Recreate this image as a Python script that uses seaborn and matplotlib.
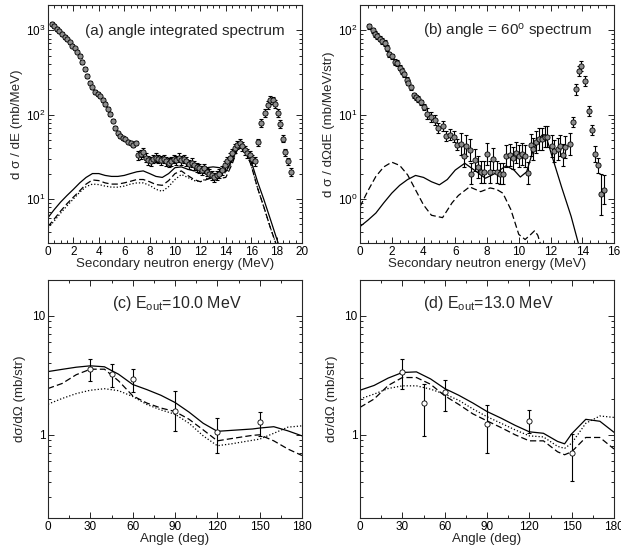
import numpy as np
import matplotlib
matplotlib.use("Agg")
import matplotlib.pyplot as plt
import matplotlib.ticker as mticker
import seaborn as sns

# ---- (a) angle integrated spectrum ----
a_e = [0.3, 0.5, 0.7, 0.9, 1.1, 1.3, 1.5, 1.7, 1.9, 2.1, 2.3, 2.5, 2.7, 2.9, 3.1, 3.3, 3.5,
       3.7, 3.9, 4.1, 4.3, 4.5, 4.7, 4.9, 5.1, 5.3, 5.5, 5.7, 5.9, 6.1, 6.3, 6.5, 6.7, 6.9,
       7.1, 7.3, 7.5, 7.7, 7.9, 8.1, 8.3, 8.5, 8.7, 8.9, 9.1, 9.3, 9.5, 9.7, 9.9, 10.1, 10.3,
       10.5, 10.7, 10.9, 11.1, 11.3, 11.5, 11.7, 11.9, 12.1, 12.3, 12.5, 12.7, 12.9, 13.1,
       13.3, 13.5, 13.7, 13.9, 14.1, 14.3, 14.5, 14.7, 14.9, 15.1, 15.3, 15.5, 15.7, 15.9,
       16.1, 16.3]
a_val = [1200, 1120, 1040, 970, 900, 840, 780, 720, 660, 610, 560, 500, 420, 350, 290, 240,
         210, 185, 175, 165, 150, 135, 118, 102, 85, 70, 60, 56, 53, 51, 48, 46, 44, 46,
         33, 34, 36, 31, 29, 28, 30, 31, 30, 29, 30, 28, 27, 28, 30, 29, 31, 29, 30, 28,
         26, 27, 25, 24, 23, 22, 23, 21, 20, 19, 18, 19, 20, 22, 25, 28, 31, 35, 40, 44,
         46, 42, 38, 35, 33, 30, 28]
a_rel = [0.05] * 34 + [0.12] * 47
a_pk_e = [16.55, 16.8, 17.1, 17.3, 17.5, 17.7, 17.9, 18.1, 18.25, 18.5, 18.7, 18.9, 19.1]
a_pk_val = [47, 80, 105, 131, 150, 148, 135, 105, 78, 52, 36, 28, 21]

a_th_e = [0, 0.5, 1, 1.5, 2, 2.5, 3, 3.5, 4, 4.5, 5, 5.5, 6, 6.5, 7, 7.5, 8, 8.5, 9, 9.5,
          10, 10.5, 11, 11.5, 12, 12.5, 13, 13.5, 14, 14.5, 15, 15.5, 16, 16.5, 17, 17.5,
          18, 18.3]
a_solid = [6.0, 7.5, 9.2, 11, 13, 15.5, 18, 20, 20, 19, 18.5, 18.5, 19, 20, 21, 21.5, 20,
           18.5, 18, 20, 23.5, 24, 22.5, 21.5, 22, 23.5, 24, 23.5, 21, 29, 46, 42, 28, 16,
           9.8, 5.8, 3.4, 2.5]
a_dash = [4.7, 5.8, 7.2, 8.8, 10.5, 12.5, 15, 16.8, 16.5, 15.5, 15, 15, 15.5, 16.2, 17, 17,
          16, 14.8, 14.5, 16.5, 20, 21.5, 19, 17, 16, 17, 18, 17.5, 18, 26, 42, 40, 25,
          13.5, 8, 4.6, 2.8, 2.2]
a_dot = [4.5, 5.5, 6.8, 8.3, 10, 12, 14, 15, 14.8, 14.2, 13.8, 13.8, 14.2, 15, 15.5, 15.5,
         14.5, 13, 12.3, 14, 17, 19.5, 18, 16.5, 16, 17.5, 19.5, 20, 20.5, 27, 43, 40, 25,
         13.5, 8, 4.6, 2.8, 2.2]

# ---- (b) 60 deg spectrum ----
b_e = [0.59, 0.8, 0.97, 1.1, 1.26, 1.4, 1.58, 1.72, 1.85, 2.0, 2.2, 2.35, 2.5, 2.63, 2.8,
       2.94, 3.05, 3.19, 3.4, 3.55, 3.68, 3.85, 4.0, 4.2, 4.45, 4.7, 4.9, 5.2, 5.4, 5.7,
       5.9, 6.1, 6.35, 6.55, 6.7, 6.9, 7.0, 7.25, 7.45, 7.6, 7.8, 8.0, 8.2, 8.4, 8.6, 8.8,
       9.0, 9.2, 9.45, 9.65, 9.8, 10.0, 10.2, 10.4, 10.6, 10.75, 10.9, 11.1, 11.25, 11.45,
       11.65, 11.8, 12.1, 12.25, 12.45, 12.6, 12.8, 12.9, 13.2, 13.4, 13.6, 13.8, 13.93,
       14.2, 14.4, 14.6, 14.8, 15.0, 15.2, 15.4]
b_val = [112, 100, 91, 86, 80, 75, 71, 62, 52, 49, 42, 41, 36, 33, 30, 26, 24, 21, 17, 16,
         15.4, 14, 12.3, 10.3, 9.4, 8.7, 6.9, 7.3, 5.6, 5.8, 5.5, 4.4, 4.5, 3.2, 4.3, 3.8,
         2.0, 2.9, 2.4, 2.1, 2.1, 3.4, 2.1, 3.0, 2.1, 2.0, 2.0, 3.2, 3.35, 3.05, 3.55, 3.2,
         3.4, 3.25, 2.05, 4.4, 3.9, 4.7, 5.1, 5.2, 5.5, 5.5, 4.2, 3.7, 3.9, 4.3, 3.35, 4.1,
         4.5, 8.2, 20, 33, 38, 25, 11, 6.6, 3.4, 2.5, 1.14, 1.28]
b_rel = [0.05] * 23 + [0.1] * 9 + [0.22] * 37 + [0.1] * 7 + [0.15, 0.15, 0.45, 0.3]

b_solid_e = [0, 0.5, 1, 1.5, 2, 2.5, 3, 3.5, 4, 4.5, 5, 5.5, 6, 6.6, 7.2, 7.9, 8.5, 9.2,
             9.7, 10.1, 10.5, 10.85, 11.2, 11.5, 11.7, 12.1, 12.7, 13.3, 13.75]
b_solid = [0.47, 0.56, 0.68, 0.9, 1.17, 1.45, 1.7, 1.9, 1.8, 1.6, 1.47, 1.7, 2.2, 2.65,
           2.2, 1.76, 2.0, 2.47, 2.2, 1.82, 2.1, 3.5, 5.0, 5.8, 5.7, 3.2, 1.38, 0.62, 0.3]
b_dash_e = [0, 0.5, 1, 1.5, 2, 2.5, 3, 3.5, 4, 4.5, 5.2, 5.8, 6.2, 6.9, 7.6, 8.2, 8.6, 9.0,
            9.5, 10.0, 10.4, 10.7, 11.0, 11.2, 11.35]
b_dash = [0.81, 1.25, 1.85, 2.4, 2.73, 2.5, 1.93, 1.28, 0.85, 0.64, 0.6, 0.9, 1.1, 1.39,
          1.22, 1.35, 1.3, 1.17, 0.75, 0.38, 0.33, 0.37, 0.42, 0.37, 0.3]

# ---- (c), (d) angular distributions ----
ang = [0, 10, 20, 30, 40, 50, 60, 70, 80, 90, 100, 110, 120, 130, 140, 145, 150, 160, 170, 180]
c_solid = [3.4, 3.55, 3.7, 3.8, 3.73, 3.23, 2.65, 2.4, 2.15, 1.87, 1.55, 1.25, 1.07, 1.09,
           1.11, 1.12, 1.14, 1.17, 1.08, 0.98]
c_dash = [2.45, 2.7, 3.2, 3.56, 3.56, 2.84, 2.13, 1.85, 1.68, 1.57, 1.35, 1.1, 0.89, 0.93,
          0.97, 0.99, 1.0, 0.89, 0.76, 0.67]
c_dot = [1.81, 2.02, 2.22, 2.37, 2.44, 2.35, 2.1, 1.8, 1.62, 1.49, 1.25, 0.98, 0.81, 0.84,
         0.88, 0.9, 0.92, 1.03, 1.16, 1.19]
d_solid = [2.37, 2.6, 3.0, 3.34, 3.38, 2.95, 2.45, 2.15, 1.85, 1.57, 1.38, 1.2, 1.06, 1.03,
           0.88, 0.84, 1.02, 1.35, 1.3, 1.05]
d_dash = [1.7, 2.0, 2.6, 3.03, 3.03, 2.66, 2.13, 1.8, 1.5, 1.31, 1.15, 1.0, 0.89, 0.89,
          0.72, 0.68, 0.72, 0.95, 0.95, 0.76]
d_dot = [2.0, 2.2, 2.45, 2.58, 2.58, 2.42, 2.2, 1.95, 1.65, 1.42, 1.25, 1.1, 0.98, 0.96,
         0.8, 0.77, 0.85, 1.25, 1.44, 1.4]

exp_ang = [30, 45, 60, 90, 120, 150]
c_val = [3.56, 3.24, 2.92, 1.59, 1.05, 1.27]
c_lo = [2.85, 2.53, 2.27, 1.08, 0.71, 0.98]
c_hi = [4.3, 3.97, 3.56, 2.34, 1.38, 1.56]
d_val = [3.38, 1.85, 2.27, 1.23, 1.31, 0.71]
d_lo = [2.42, 0.97, 1.59, 0.71, 1.03, 0.41]
d_hi = [4.3, 2.66, 2.88, 1.78, 1.61, 1.01]

sns.set_style("ticks")
plt.rcParams['font.family'] = ['Liberation Sans', 'DejaVu Sans']
plt.rcParams['mathtext.fontset'] = 'custom'
plt.rcParams['mathtext.rm'] = 'Liberation Sans'
plt.rcParams['mathtext.it'] = 'Liberation Sans:italic'

DASH = (0, (5, 2.5))
DOT = (0, (1, 1.6))
LW = 0.9

fig = plt.figure(figsize=(6.21, 5.52), dpi=100)
W, H = 254 / 621, 238 / 552
ax_a = fig.add_axes([48 / 621, 1 - 243 / 552, W, H])
ax_b = fig.add_axes([360 / 621, 1 - 243 / 552, W, H])
ax_c = fig.add_axes([48 / 621, 1 - 518 / 552, W, H])
ax_d = fig.add_axes([360 / 621, 1 - 518 / 552, W, H])


def style_axis(ax):
    ax.set_yscale('log')
    ax.tick_params(which='both', direction='in', top=True, right=True, labelsize=8.5,
                   width=0.6, colors='k', pad=2)
    ax.tick_params(which='major', length=4)
    ax.tick_params(which='minor', length=2)
    for s in ax.spines.values():
        s.set_linewidth(0.8)


def curve(ax, x, y, ls):
    sns.lineplot(x=x, y=y, ax=ax, color='k', lw=LW, linestyle=ls, sort=False,
                 estimator=None)


def points(ax, x, y, lo, hi, fc, ms):
    y = np.asarray(y, float)
    err = [y - np.asarray(lo, float), np.asarray(hi, float) - y]
    ax.errorbar(x, y, yerr=err, fmt='none', ecolor='k', elinewidth=0.8, capsize=1.5,
                capthick=0.8, zorder=3)
    sns.scatterplot(x=x, y=y, ax=ax, marker='o', s=ms, facecolor=fc, edgecolor='k',
                    linewidth=0.6, zorder=4)


# (a)
style_axis(ax_a)
curve(ax_a, a_th_e, a_solid, '-')
curve(ax_a, a_th_e, a_dash, DASH)
curve(ax_a, a_th_e, a_dot, DOT)
av = np.asarray(a_val, float)
ar = np.asarray(a_rel)
points(ax_a, a_e, av, av * (1 - ar), av * (1 + ar), '0.55', 14)
pv = np.asarray(a_pk_val, float)
points(ax_a, a_pk_e, pv, pv * 0.9, pv * 1.1, '0.55', 14)
ax_a.set_xlim(0, 20)
ax_a.set_ylim(3, 2000)
ax_a.xaxis.set_major_locator(mticker.MultipleLocator(2))
ax_a.xaxis.set_minor_locator(mticker.MultipleLocator(0.5))
ax_a.set_xlabel('Secondary neutron energy (MeV)', fontsize=9.6, labelpad=0)
ax_a.set_ylabel('d σ / dE (mb/MeV)', fontsize=9.6, labelpad=2)
ax_a.text(0.54, 0.89, '(a) angle integrated spectrum', transform=ax_a.transAxes,
          ha='center', va='center', fontsize=11)

# (b)
style_axis(ax_b)
curve(ax_b, b_solid_e, b_solid, '-')
curve(ax_b, b_dash_e, b_dash, DASH)
bv = np.asarray(b_val, float)
br = np.asarray(b_rel)
points(ax_b, b_e, bv, bv / (1 + br) ** 1.5, bv * (1 + br) ** 1.5, '0.55', 14)
ax_b.set_xlim(0, 16)
ax_b.set_ylim(0.3, 200)
ax_b.xaxis.set_major_locator(mticker.MultipleLocator(2))
ax_b.xaxis.set_minor_locator(mticker.MultipleLocator(0.5))
ax_b.set_xlabel('Secondary neutron energy (MeV)', fontsize=9.6, labelpad=0)
ax_b.set_ylabel('d σ / dΩdE (mb/MeV/str)', fontsize=9.6, labelpad=2)
ax_b.text(0.58, 0.89, r'(b) angle = 60$^{\rm o}$ spectrum', transform=ax_b.transAxes,
          ha='center', va='center', fontsize=11)

# (c), (d)
for ax, sol, das, dot, val, lo, hi, lab in [
        (ax_c, c_solid, c_dash, c_dot, c_val, c_lo, c_hi, r'(c) E$_{\rm out}$=10.0 MeV'),
        (ax_d, d_solid, d_dash, d_dot, d_val, d_lo, d_hi, r'(d) E$_{\rm out}$=13.0 MeV')]:
    style_axis(ax)
    curve(ax, ang, sol, '-')
    curve(ax, ang, das, DASH)
    curve(ax, ang, dot, DOT)
    points(ax, exp_ang, val, lo, hi, 'white', 14)
    ax.set_xlim(0, 180)
    ax.set_ylim(0.2, 20)
    ax.xaxis.set_major_locator(mticker.MultipleLocator(30))
    ax.xaxis.set_minor_locator(mticker.MultipleLocator(15))
    ax.yaxis.set_major_locator(mticker.FixedLocator([1, 10]))
    ax.yaxis.set_major_formatter(mticker.FixedFormatter(['1', '10']))
    ax.yaxis.set_minor_formatter(mticker.NullFormatter())
    ax.set_xlabel('Angle (deg)', fontsize=9.6, labelpad=0)
    ax.set_ylabel('dσ/dΩ (mb/str)', fontsize=9.6, labelpad=4)
    ax.text(0.507, 0.9, lab, transform=ax.transAxes, ha='center', va='center', fontsize=11.5)

fig.savefig('out.png', dpi=100)
